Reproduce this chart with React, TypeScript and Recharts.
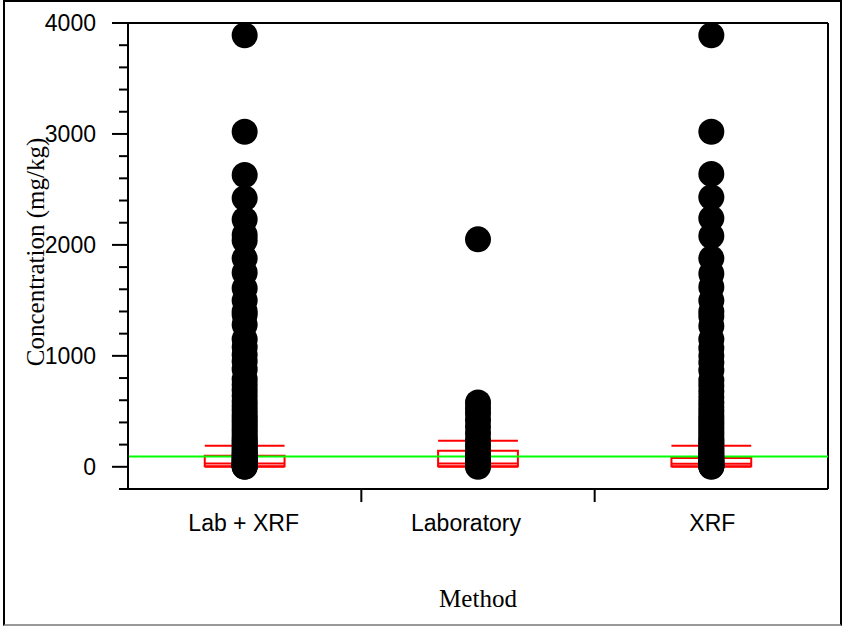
import { ScatterChart, Scatter, XAxis, YAxis, ReferenceLine, ReferenceArea } from 'recharts';

const CATEGORIES = ['Lab + XRF', 'Laboratory', 'XRF'];
const CATEGORY_X = [0.5, 1.5, 2.5];
const X_TICKS = [0.5, 1, 1.5, 2, 2.5];
const Y_TICKS = [-200, 0, 200, 400, 600, 800, 1000, 1200, 1400, 1600, 1800, 2000, 2200, 2400, 2600, 2800, 3000, 3200, 3400, 3600, 3800, 4000];
const Y_MAJOR = [0, 1000, 2000, 3000, 4000];

// measured concentrations (mg/kg) per method
const LAB_XRF_VALUES = [3890, 3020, 2630, 2420, 2230, 2090, 2040, 1880, 1750, 1610, 1500, 1400, 1370, 1280, 1150, 1080, 1010, 950, 880, 790, 740, 690, 640, 590, 550, 510, 470, 440, 410, 380, 350, 320, 290, 260, 240, 220, 200, 180, 160, 140, 125, 110, 95, 80, 70, 60, 50, 40, 30, 22, 15, 10, 5, 2, 0];
const LABORATORY_VALUES = [2050, 580, 530, 480, 420, 360, 300, 240, 190, 140, 100, 70, 45, 25, 10, 0];
const XRF_VALUES = [3890, 3020, 2640, 2430, 2240, 2080, 1880, 1740, 1620, 1500, 1400, 1360, 1270, 1150, 1070, 1000, 940, 870, 780, 730, 680, 630, 580, 540, 500, 460, 430, 400, 370, 340, 310, 280, 250, 230, 210, 190, 170, 150, 130, 115, 100, 85, 70, 60, 50, 40, 30, 20, 12, 8, 4, 0];
const SERIES_VALUES = [LAB_XRF_VALUES, LABORATORY_VALUES, XRF_VALUES];

// box plot summary per method
const BOX_LOWER = [0, 0, 0];
const BOX_Q1 = [6, 6, 6];
const BOX_MEDIAN = [30, 30, 28];
const BOX_Q3 = [100, 145, 80];
const BOX_UPPER = [190, 235, 190];
const GUIDELINE = 92;

const BOX_HALF = 0.171;
const LABEL_DX = [-1, -12, 1];
const SANS = '"Liberation Sans", Arial, sans-serif';
const SERIF = '"Liberation Serif", "Times New Roman", serif';

const XTick = (props: any) => {
  const { x, y, payload } = props;
  const idx = CATEGORY_X.indexOf(payload.value);
  if (idx < 0) {
    return <line x1={x} x2={x} y1={y} y2={y + 13} stroke="#000" strokeWidth={2} />;
  }
  return (
    <text x={x + LABEL_DX[idx]} y={y + 34} textAnchor="middle" dominantBaseline="central" fontFamily={SANS} fontSize={23} fill="#000">
      {CATEGORIES[idx]}
    </text>
  );
};

const YTick = (props: any) => {
  const { x, y, payload } = props;
  const major = Y_MAJOR.includes(payload.value);
  return (
    <g>
      <line x1={x - (major ? 16 : 9)} x2={x} y1={y} y2={y} stroke="#000" strokeWidth={2} />
      {major && (
        <text x={x - 32} y={y} textAnchor="end" dominantBaseline="central" fontFamily={SANS} fontSize={23} fill="#000">
          {payload.value}
        </text>
      )}
    </g>
  );
};

const Dot = (props: any) => <circle cx={props.cx} cy={props.cy} r={13} fill="#000" />;

export default function App() {
  return (
    <div style={{ position: 'absolute', left: 0, top: 0, width: 843, height: 626, background: '#fff' }}>
      <div
        style={{
          position: 'absolute', left: 3, top: 0, width: 839, height: 626, boxSizing: 'border-box',
          borderLeft: '2px solid #000', borderTop: '2px solid #000', borderRight: '2px solid #000', borderBottom: '2px solid #999',
        }}
      />
      <div style={{ position: 'absolute', left: 0, top: 0 }}>
        <ScatterChart width={843} height={626} margin={{ top: 23, right: 15, bottom: 77, left: 0 }}>
          <XAxis
            dataKey="x"
            type="number"
            domain={[0, 3]}
            ticks={X_TICKS}
            interval={0}
            tick={<XTick />}
            tickLine={false}
            tickSize={0}
            tickMargin={0}
            height={60}
            axisLine={{ stroke: '#000', strokeWidth: 2 }}
            label={{
              content: (p: any) => {
                const vb = p.viewBox;
                return (
                  <text x={vb.x + vb.width / 2} y={vb.y + 109} textAnchor="middle" dominantBaseline="central" fontFamily={SERIF} fontSize={25} fill="#000">
                    Method
                  </text>
                );
              },
            }}
          />
          <YAxis
            dataKey="y"
            type="number"
            domain={[-200, 4000]}
            ticks={Y_TICKS}
            interval={0}
            tick={<YTick />}
            tickLine={false}
            tickSize={0}
            tickMargin={0}
            width={128}
            axisLine={{ stroke: '#000', strokeWidth: 2 }}
            label={{
              content: (p: any) => {
                const vb = p.viewBox;
                const cx = vb.x + 35;
                const cy = vb.y + vb.height / 2 - 4;
                return (
                  <text x={cx} y={cy} transform={`rotate(-90, ${cx}, ${cy})`} textAnchor="middle" dominantBaseline="central" fontFamily={SERIF} fontSize={25} fill="#000">
                    Concentration (mg/kg)
                  </text>
                );
              },
            }}
          />
          <ReferenceLine y={4000} stroke="#000" strokeWidth={2} />
          <ReferenceLine x={3} stroke="#000" strokeWidth={2} />
          {CATEGORY_X.map((cx, i) => (
            <ReferenceArea key={`box-${i}`} x1={cx - BOX_HALF} x2={cx + BOX_HALF} y1={BOX_Q1[i]} y2={BOX_Q3[i]} fill="none" fillOpacity={0} stroke="#ff0000" strokeWidth={2} strokeOpacity={1} />
          ))}
          {CATEGORY_X.map((cx, i) =>
            [BOX_LOWER[i], BOX_MEDIAN[i], BOX_UPPER[i]].map((v, j) => (
              <ReferenceLine key={`seg-${i}-${j}`} segment={[{ x: cx - BOX_HALF, y: v }, { x: cx + BOX_HALF, y: v }]} stroke="#ff0000" strokeWidth={2} />
            ))
          )}
          <ReferenceLine y={GUIDELINE} stroke="#00ff00" strokeWidth={2} />
          {SERIES_VALUES.map((values, i) => (
            <Scatter
              key={CATEGORIES[i]}
              name={CATEGORIES[i]}
              data={values.map((v) => ({ x: CATEGORY_X[i], y: v }))}
              shape={<Dot />}
              isAnimationActive={false}
            />
          ))}
        </ScatterChart>
      </div>
    </div>
  );
}
